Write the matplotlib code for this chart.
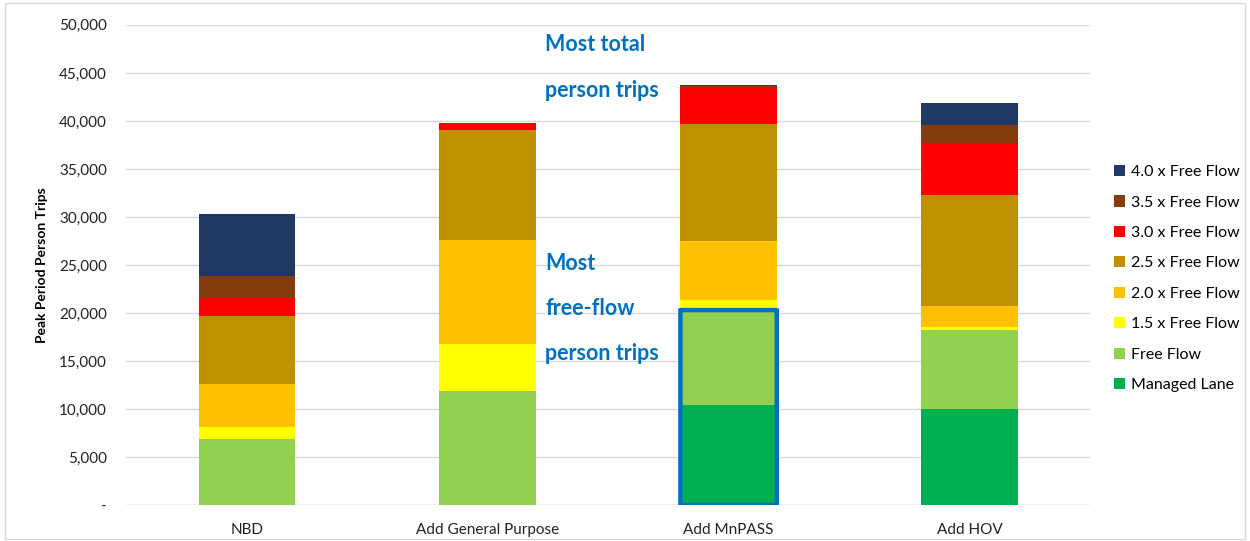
import matplotlib
matplotlib.use("Agg")
import matplotlib.pyplot as plt
from matplotlib.patches import FancyBboxPatch, Rectangle
from matplotlib.ticker import FuncFormatter

plt.rcParams['font.family'] = ['Lato', 'DejaVu Sans']

categories = ["NBD", "Add General Purpose", "Add MnPASS", "Add HOV"]
series_names = ["Managed Lane", "Free Flow", "1.5 x Free Flow", "2.0 x Free Flow",
                "2.5 x Free Flow", "3.0 x Free Flow", "3.5 x Free Flow", "4.0 x Free Flow"]
managed_lane = [0, 0, 10400, 10000]
free_flow = [6850, 11900, 9900, 8200]
ff_1_5 = [1250, 4900, 1100, 300]
ff_2_0 = [4500, 10800, 6100, 2200]
ff_2_5 = [7100, 11500, 12200, 11600]
ff_3_0 = [1900, 650, 3800, 5400]
ff_3_5 = [2300, 0, 100, 1900]
ff_4_0 = [6400, 0, 100, 2300]
series_values = [managed_lane, free_flow, ff_1_5, ff_2_0, ff_2_5, ff_3_0, ff_3_5, ff_4_0]
colors = ["#00B050", "#92D050", "#FFFF00", "#FFC000", "#BF9000", "#FF0000", "#843C0C", "#1F3864"]

fig = plt.figure(figsize=(12.5, 5.41), dpi=100)
ax = fig.add_axes([0.101, 0.0665, 0.771, 0.8875])

x = list(range(len(categories)))
bottoms = [0] * len(categories)
handles = []
for name, vals, c in zip(series_names, series_values, colors):
    h = ax.bar(x, vals, width=0.40, bottom=bottoms, color=c, label=name, zorder=3)
    handles.append(h)
    bottoms = [b + v for b, v in zip(bottoms, vals)]

ax.set_ylim(0, 50000)
ax.set_xlim(-0.5, len(categories) - 0.5)
ax.set_yticks(range(0, 50001, 5000))
ax.yaxis.set_major_formatter(FuncFormatter(lambda v, p: "-" if v == 0 else f"{int(v):,}"))
ax.grid(axis='y', color='#D9D9D9', linewidth=1, zorder=0)
ax.set_xticks(x)
ax.set_xticklabels(categories, fontsize=11)
ax.tick_params(axis='both', length=0, labelsize=11, colors='#222222')
ax.tick_params(axis='y', pad=14)
ax.tick_params(axis='x', pad=13)
for s in ax.spines.values():
    s.set_visible(False)
ax.axhline(0, color='#D9D9D9', linewidth=1, zorder=1)
ax.set_ylabel("Peak Period Person Trips", fontsize=10, fontweight='bold', labelpad=8)

# highlight box around MnPASS managed + free flow
hl_top = managed_lane[2] + free_flow[2]
rect = FancyBboxPatch((2 - 0.2, 0), 0.40, hl_top,
                      boxstyle="round,pad=0,rounding_size=0.01",
                      fill=False, edgecolor="#0070C0", linewidth=3.2, zorder=5,
                      mutation_aspect=2000)
ax.add_patch(rect)

blue = "#0070C0"
kw = dict(color=blue, fontsize=15.5, fontweight='bold', va='center', ha='left')
ax.text(1.24, 48000, "Most total", **kw)
ax.text(1.24, 43200, "person trips", **kw)
ax.text(1.24, 25200, "Most", **kw)
ax.text(1.24, 20500, "free-flow", **kw)
ax.text(1.24, 15800, "person trips", **kw)

leg = fig.legend(handles[::-1], series_names[::-1], loc='upper left',
                 bbox_to_anchor=(0.886, 0.707), frameon=False, fontsize=11.5,
                 handlelength=0.7, handleheight=0.7, handletextpad=0.4,
                 labelspacing=1.02, borderaxespad=0)

# outer border
fig.patches.append(Rectangle((0.004, 0.004), 0.992, 0.99, transform=fig.transFigure,
                             fill=False, edgecolor='#D9D9D9', linewidth=1))

fig.savefig("out.png", dpi=100)
